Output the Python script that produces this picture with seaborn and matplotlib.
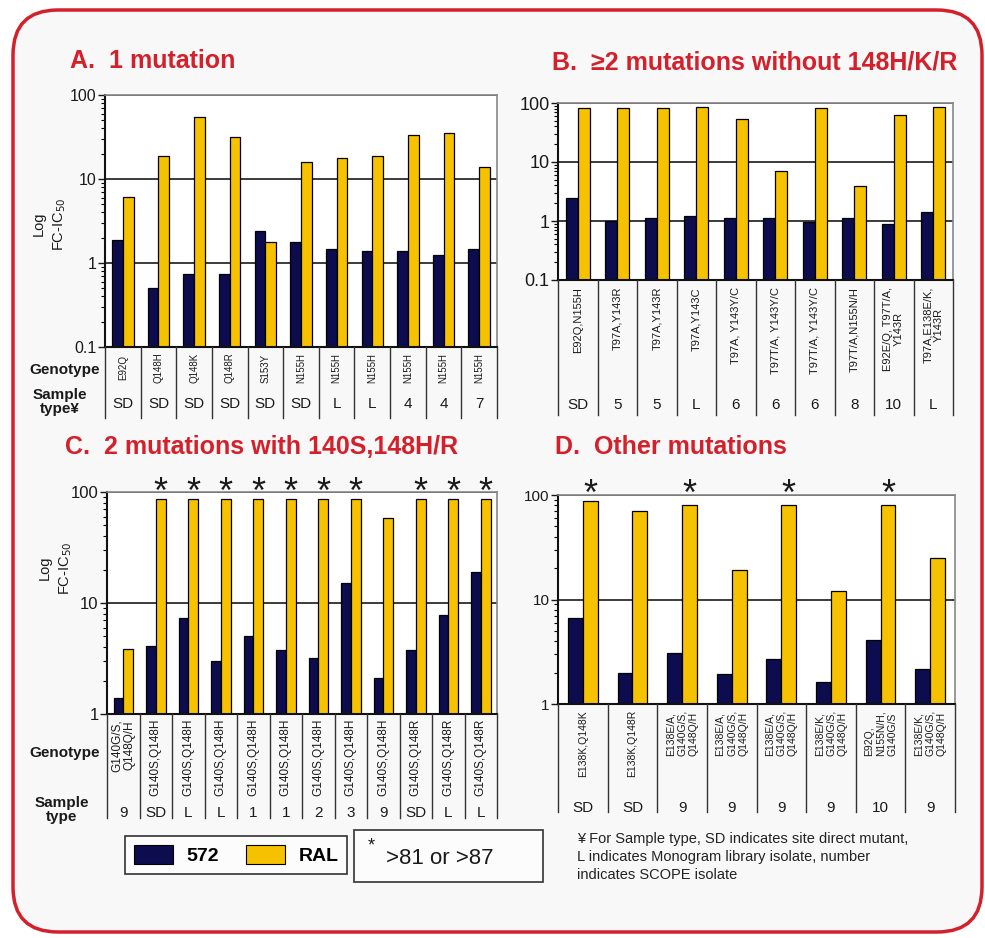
import numpy as np
import pandas as pd
import matplotlib
matplotlib.use("Agg")
import matplotlib.pyplot as plt
import seaborn as sns
from matplotlib import transforms as mtransforms
from matplotlib.patches import FancyBboxPatch, Rectangle, Patch
from matplotlib.lines import Line2D
from matplotlib.ticker import FixedLocator, LogLocator, NullFormatter

# ---------------- data ----------------
series_names = ["572", "RAL"]

A_genotype = ["E92Q", "Q148H", "Q148K", "Q148R", "S153Y", "N155H",
              "N155H", "N155H", "N155H", "N155H", "N155H"]
A_sample = ["SD", "SD", "SD", "SD", "SD", "SD", "L", "L", "4", "4", "7"]
A_572 = [1.9, 0.51, 0.74, 0.74, 2.4, 1.8, 1.47, 1.38, 1.38, 1.26, 1.47]
A_RAL = [6.1, 18.8, 55, 32, 1.8, 16, 18, 19, 33, 35, 14]

B_genotype = ["E92Q,N155H", "T97A,Y143R", "T97A,Y143R", "T97A,Y143C",
              "T97A, Y143Y/C", "T97T/A, Y143Y/C", "T97T/A, Y143Y/C",
              "T97T/A,N155N/H", "E92E/Q, T97T/A,\nY143R", "T97A,E138E/K,\nY143R"]
B_sample = ["SD", "5", "5", "L", "6", "6", "6", "8", "10", "L"]
B_572 = [2.45, 1.0, 1.12, 1.2, 1.12, 1.12, 0.98, 1.12, 0.9, 1.4]
B_RAL = [83, 83, 83, 87, 54, 7.1, 83, 3.9, 62, 87]

C_genotype = ["G140G/S,\nQ148Q/H", "G140S,Q148H", "G140S,Q148H", "G140S,Q148H",
              "G140S,Q148H", "G140S,Q148H", "G140S,Q148H", "G140S,Q148H",
              "G140S,Q148H", "G140S,Q148R", "G140S,Q148R", "G140S,Q148R"]
C_sample = ["9", "SD", "L", "L", "1", "1", "2", "3", "9", "SD", "L", "L"]
C_572 = [1.4, 4.1, 7.4, 3.0, 5.0, 3.8, 3.2, 15.2, 2.1, 3.8, 7.8, 19.1]
C_RAL = [3.85, 87, 87, 87, 87, 87, 87, 87, 58, 87, 87, 87]
C_star = [0, 1, 1, 1, 1, 1, 1, 1, 0, 1, 1, 1]

D_genotype = ["E138K,Q148K", "E138K,Q148R",
              "E138E/A,\nG140G/S,\nQ148Q/H", "E138E/A,\nG140G/S,\nQ148Q/H",
              "E138E/A,\nG140G/S,\nQ148Q/H", "E138E/K,\nG140G/S,\nQ148Q/H",
              "E92Q,\nN155N/H,\nG140G/S", "E138E/K,\nG140G/S,\nQ148Q/H"]
D_sample = ["SD", "SD", "9", "9", "9", "9", "10", "9"]
D_572 = [6.7, 2.0, 3.05, 1.92, 2.68, 1.63, 4.1, 2.16]
D_RAL = [88, 71, 81, 19, 81, 12, 81, 24.7]
D_star = [1, 0, 1, 0, 1, 0, 1, 0]

# ---------------- styling ----------------
plt.rcParams['font.family'] = ['Liberation Sans', 'DejaVu Sans']
W, H = 985, 938
NAVY = '#0c0c4e'
GOLD = '#f6c200'
RED = '#d4202a'
TXT = '#1a1a1a'

fig = plt.figure(figsize=(W / 100, H / 100), dpi=100, facecolor='white')


def fx(px):
    return px / W


def fy(py):
    return 1 - py / H


border = FancyBboxPatch((13, H - 932), 969, 922,
                        boxstyle='round,pad=0,rounding_size=45',
                        transform=None, facecolor='#f8f8f8',
                        edgecolor=RED, lw=2.5, zorder=-10)
fig.add_artist(border)


def panel(box, geno, sample, v1, v2, ylim, ticks, ticklabels, tick_fs,
          g_y, g_va, g_fs, g_ma, g_ls, s_y, tab_bottom, stars=None,
          star_y=None):
    x0, y0, x1, y1 = box
    ax = fig.add_axes([fx(x0), fy(y1), (x1 - x0) / W, (y1 - y0) / H])
    n = len(geno)
    df = pd.DataFrame({
        'idx': list(range(n)) * 2,
        'series': [series_names[0]] * n + [series_names[1]] * n,
        'value': list(v1) + list(v2),
    })
    sns.barplot(data=df, x='idx', y='value', hue='series',
                hue_order=series_names, palette=[NAVY, GOLD], width=0.6,
                saturation=1, edgecolor='black', linewidth=0.9,
                errorbar=None, legend=False, ax=ax)
    ax.set_yscale('log')
    ax.set_ylim(*ylim)
    ax.set_xlim(-0.5, n - 0.5)
    ax.set_xticks([])
    ax.set_xlabel('')
    ax.set_ylabel('')
    ax.set_facecolor('white')
    ax.yaxis.set_major_locator(FixedLocator(ticks))
    ax.set_yticklabels(ticklabels)
    ax.yaxis.set_minor_locator(LogLocator(base=10, subs=np.arange(2, 10)))
    ax.yaxis.set_minor_formatter(NullFormatter())
    ax.tick_params(axis='y', which='major', length=5, width=1.0,
                   labelsize=tick_fs, pad=1, colors=TXT)
    ax.tick_params(axis='y', which='minor', length=3, width=0.8)
    ax.yaxis.grid(True, which='major', color='#1a1a1a', lw=1.2)
    ax.set_axisbelow(True)
    for s in ['left', 'bottom']:
        ax.spines[s].set_color('#111')
        ax.spines[s].set_linewidth(1.5)
    for s in ['top', 'right']:
        ax.spines[s].set_color('#888')
        ax.spines[s].set_linewidth(1.2)

    trans = mtransforms.blended_transform_factory(ax.transData, fig.transFigure)
    for b in np.arange(n + 1) - 0.5:
        fig.add_artist(Line2D([b, b], [fy(y1), fy(tab_bottom)],
                              transform=trans, color='#333', lw=1))
    for i, g in enumerate(geno):
        ax.text(i, fy(g_y), g, transform=trans, rotation=90, ha='center',
                va=g_va, fontsize=g_fs, multialignment=g_ma,
                linespacing=g_ls, color=TXT)
    for i, s in enumerate(sample):
        ax.text(i, fy(s_y), s, transform=trans, ha='center', va='center',
                fontsize=11, color=TXT)
    if stars is not None:
        fs = 26
        fs_px = fs * 100 / 72
        for i, st in enumerate(stars):
            if st:
                ax.text(i + 0.15, fy(star_y + 0.56 * fs_px), '*',
                        transform=trans, ha='center', va='baseline',
                        fontsize=fs, color=TXT)
    return ax


# Panel A
panel((105, 95, 497, 347), A_genotype, A_sample, A_572, A_RAL,
      (0.1, 100), [0.1, 1, 10, 100], ['0.1', '1', '10', '100'], 11.5,
      368, 'center', 7, 'center', 1.0, 404, 418)
# Panel B
panel((558, 103, 953, 280), B_genotype, B_sample, B_572, B_RAL,
      (0.1, 100), [0.1, 1, 10, 100], ['0.1', '1', '10', '100'], 13,
      287, 'top', 8, 'center', 1.1, 405, 415)
# Panel C
panel((107, 492, 497, 714), C_genotype, C_sample, C_572, C_RAL,
      (1, 100), [1, 10, 100], ['1', '10', '100'], 12,
      719, 'top', 8.5, 'center', 1.0, 813, 818, stars=C_star, star_y=483)
# Panel D
panel((558, 495, 955, 704), D_genotype, D_sample, D_572, D_RAL,
      (1, 100), [1, 10, 100], ['1', '10', '100'], 11,
      710, 'top', 7.5, 'left', 1.2, 808, 812, stars=D_star, star_y=485)

# Titles
for txt, x, y in [('A.  1 mutation', 70, 61),
                  ('B.  \u22652 mutations without 148H/K/R', 552, 62),
                  ('C.  2 mutations with 140S,148H/R', 65, 447),
                  ('D.  Other mutations', 555, 447)]:
    fig.text(fx(x), fy(y), txt, color=RED, fontsize=18, weight='bold',
             ha='left', va='center')

# Y labels
for x, y in [(50, 224), (56, 568)]:
    fig.text(fx(x), fy(y), 'Log\nFC-IC$_{50}$', rotation=90, ha='center',
             va='center', fontsize=10.5, linespacing=1.5, color=TXT)

# Row labels
fig.text(fx(100), fy(370), 'Genotype', ha='right', va='center', fontsize=11,
         weight='bold', color=TXT)
fig.text(fx(60), fy(402), 'Sample\ntype\u00a5', ha='center', va='center',
         fontsize=11, weight='bold', linespacing=0.95, color=TXT)
fig.text(fx(100), fy(753), 'Genotype', ha='right', va='center', fontsize=11,
         weight='bold', color=TXT)
fig.text(fx(62), fy(810), 'Sample\ntype', ha='center', va='center',
         fontsize=11, weight='bold', linespacing=0.95, color=TXT)

# Legend
handles = [Patch(facecolor=NAVY, edgecolor='black', lw=0.8),
           Patch(facecolor=GOLD, edgecolor='black', lw=0.8)]
leg = fig.legend(handles=handles, labels=series_names, ncol=2, loc='center',
                 bbox_to_anchor=(fx(236), fy(855)), frameon=True,
                 fancybox=False, edgecolor='#333', facecolor='#fcfcfc',
                 prop=dict(weight='bold', size=14), handlelength=2.0,
                 handleheight=1.1, columnspacing=1.4, handletextpad=0.7,
                 borderpad=0.45, framealpha=1)
leg.get_frame().set_linewidth(1.2)

box2 = Rectangle((354, H - 882), 189, 52, transform=None, facecolor='#fcfcfc',
                 edgecolor='#333', lw=1.2)
fig.add_artist(box2)
fig.text(fx(368), fy(846), '*', fontsize=13, ha='left', va='center', color=TXT)
fig.text(fx(386), fy(858), '>81 or >87', fontsize=16, ha='left', va='center',
         color=TXT)

fig.text(fx(577), fy(832),
         '\u00a5 For Sample type, SD indicates site direct mutant,\n'
         'L indicates Monogram library isolate, number\n'
         'indicates SCOPE isolate',
         ha='left', va='top', fontsize=10.5, linespacing=1.35, color='#222')

fig.savefig('out.png', dpi=100)
